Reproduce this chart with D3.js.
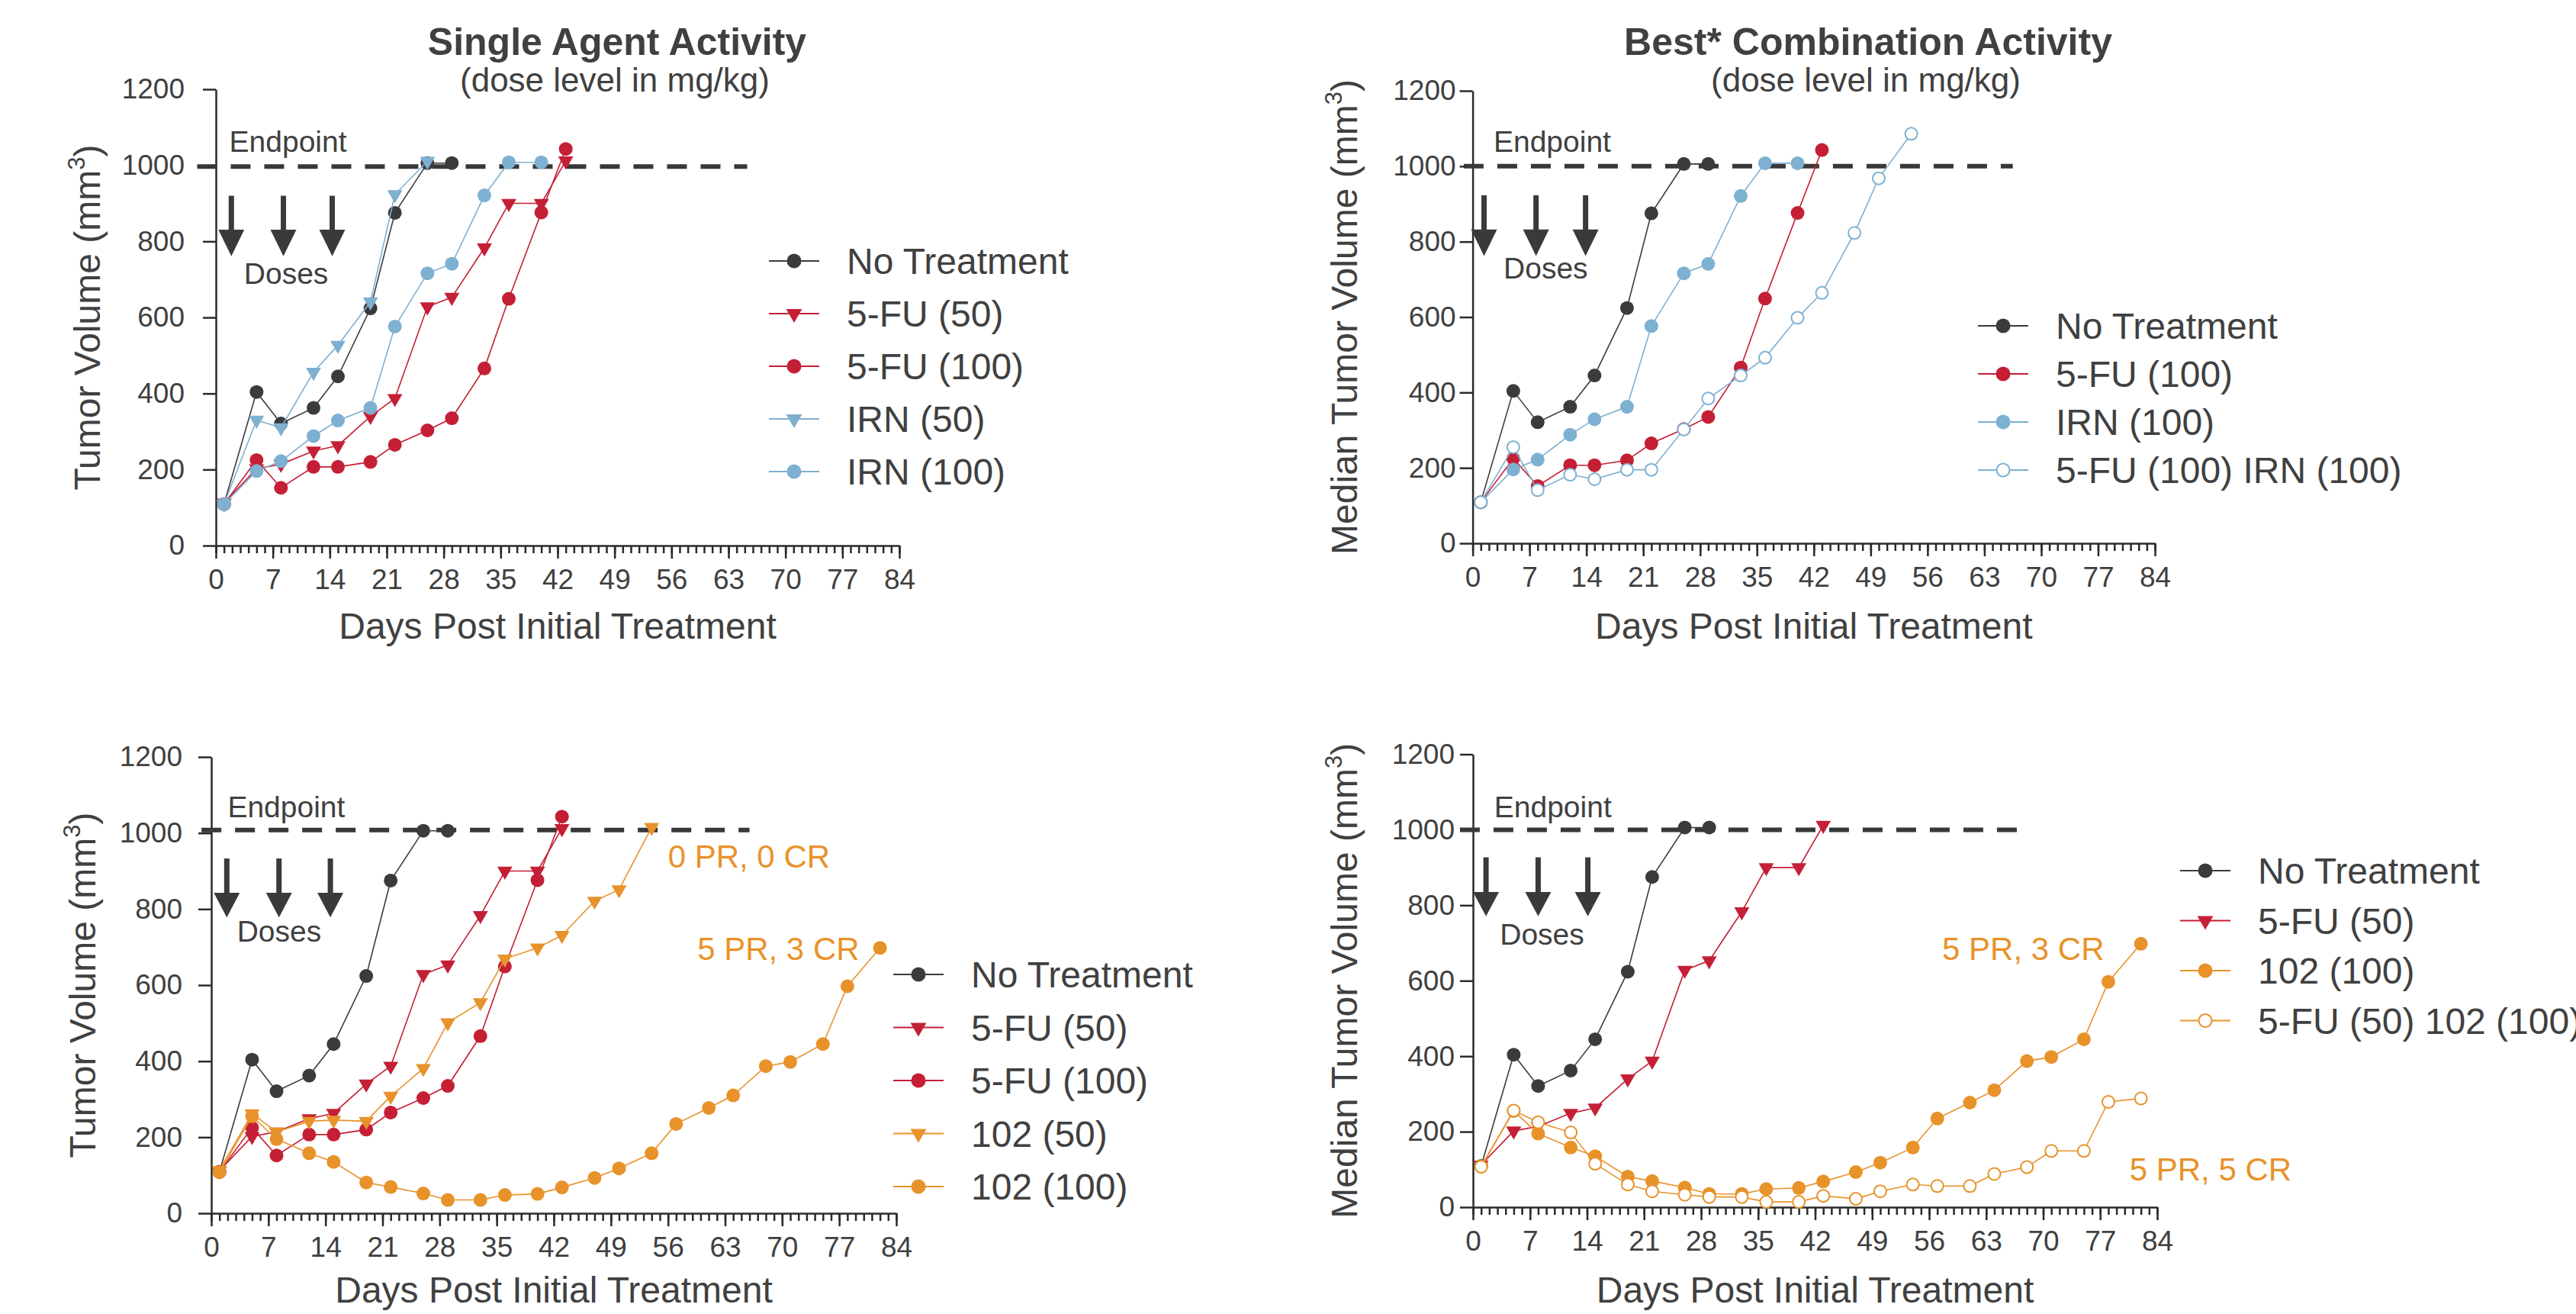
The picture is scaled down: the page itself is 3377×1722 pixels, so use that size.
<!DOCTYPE html>
<html>
<head>
<meta charset="utf-8">
<script src="https://cdn.jsdelivr.net/npm/d3@7"></script>
<style>
  body { margin: 0; background: #fff; }
  svg { display: block; }
  text { font-family: "Liberation Sans", Arial, Helvetica, sans-serif; }
</style>
</head>
<body>
<svg id="chart"></svg>
<script>
// measurement days (Mon/Thu schedule)
const days = [1, 5, 8, 12, 15, 19, 22, 26, 29, 33, 36, 40, 43, 47, 50, 54, 57, 61, 64, 68, 71, 75, 78, 82];
const dayTicks = [0, 7, 14, 21, 28, 35, 42, 49, 56, 63, 70, 77, 84];
const volTicks = [0, 200, 400, 600, 800, 1000, 1200];

// median tumor volume (mm3), one value per day until the group ends
const noTreatment = [109, 404, 321, 362, 445, 624, 875, 1006, 1006];
const fu50 = [112, 202, 214, 249, 263, 340, 387, 628, 653, 783, 900, 900, 1012];
const fu100 = [109, 225, 152, 207, 207, 220, 265, 303, 335, 466, 649, 876, 1043];
const irn50 = [109, 330, 310, 456, 527, 641, 923, 1011];
const irn100 = [109, 196, 222, 288, 329, 362, 576, 716, 741, 921, 1008, 1008];
const fu100Irn100 = [109, 255, 141, 182, 170, 195, 195, 302, 384, 445, 492, 598, 664, 823, 968, 1086];
const c102dose50 = [113, 262, 214, 242, 245, 242, 308, 381, 501, 554, 669, 698, 731, 821, 851, 1015];
const c102dose100 = [108, 255, 195, 158, 135, 81, 69, 52, 35, 35, 48, 51, 68, 93, 118, 158, 235, 277, 310, 387, 398, 445, 597, 698];
const fu50C102 = [107, 256, 225, 198, 115, 60, 42, 33, 27, 27, 14, 14, 30, 22, 42, 60, 56, 56, 88, 106, 149, 149, 279, 288];

const endpoint = 1000;
const doseDays = [1.9, 8.3, 14.3];

const ink = '#404040';
const black = '#3b3b3b';
const red = '#c41f35';
const blue = '#7eb0d1';
const orange = '#e8922a';

class GrowthPanel {

    constructor( config, series ) {
        this.config = config;
        this.series = series;
        this.init();
        this.render();
    }

    init() {
        let self = this;
        const c = self.config;

        self.g = d3.select('#chart').append('g');

        self.xscale = d3.scaleLinear()
            .domain([0, 84])
            .range([c.x0, c.x1]);

        self.yscale = d3.scaleLinear()
            .domain([0, 1200])
            .range([c.yBottom, c.yTop]);

        // minor day ticks
        self.g.append('g')
            .attr('transform', `translate(0, ${c.yBottom})`)
            .call( d3.axisBottom(self.xscale).tickValues(d3.range(0, 85)).tickSize(10).tickSizeOuter(0).tickFormat('') )
            .call( g => g.select('.domain').remove() );

        self.xaxis_group = self.g.append('g')
            .attr('transform', `translate(0, ${c.yBottom})`)
            .call( d3.axisBottom(self.xscale).tickValues(dayTicks).tickSize(17).tickSizeOuter(0).tickPadding(14).tickFormat(d3.format('d')) );

        self.yaxis_group = self.g.append('g')
            .attr('transform', `translate(${c.x0}, 0)`)
            .call( d3.axisLeft(self.yscale).tickValues(volTicks).tickSize(17).tickSizeOuter(0).tickPadding(c.tickPad).tickFormat(d3.format('d')) );

        self.g.selectAll('.tick line, .domain')
            .attr('stroke', '#2a2a2a')
            .attr('stroke-width', 2.5);
        self.g.selectAll('.tick text')
            .attr('fill', ink)
            .style('font-size', '37px')
            .style('font-family', '"Liberation Sans", Arial, sans-serif');

        // axis titles
        self.g.append('text')
            .attr('x', (c.x0 + c.x1) / 2)
            .attr('y', c.yBottom + c.xTitleGap)
            .attr('text-anchor', 'middle')
            .attr('fill', ink)
            .style('font-size', '48px')
            .text('Days Post Initial Treatment');

        const ylab = self.g.append('text')
            .attr('transform', `translate(${c.x0 - 152}, ${(c.yTop + c.yBottom) / 2}) rotate(-90)`)
            .attr('text-anchor', 'middle')
            .attr('fill', ink)
            .style('font-size', '48px');
        ylab.append('tspan').text(c.yLabel + ' (mm');
        ylab.append('tspan').attr('dy', -20).style('font-size', '31px').text('3');
        ylab.append('tspan').attr('dy', 20).text(')');

        if (c.title) {
            self.g.append('text')
                .attr('x', c.titleX).attr('y', 72)
                .attr('text-anchor', 'middle')
                .attr('fill', ink)
                .style('font-size', '50px')
                .style('font-weight', 'bold')
                .text(c.title);
            self.g.append('text')
                .attr('x', c.titleX - 3).attr('y', 120)
                .attr('text-anchor', 'middle')
                .attr('fill', ink)
                .style('font-size', '44px')
                .text('(dose level in mg/kg)');
        }
    }

    marker( sel, s, r ) {
        if (s.shape === 'triangle') {
            sel.append('path')
                .attr('d', d3.symbol(d3.symbolTriangle, r * r * 2.1)())
                .attr('transform', d => `translate(${d[0]}, ${d[1]}) rotate(180)`)
                .attr('fill', s.color);
        } else {
            sel.append('circle')
                .attr('cx', d => d[0]).attr('cy', d => d[1])
                .attr('r', s.shape === 'open' ? r - 1 : r)
                .attr('fill', s.shape === 'open' ? '#fff' : s.color)
                .attr('stroke', s.shape === 'open' ? s.color : 'none')
                .attr('stroke-width', 2);
        }
    }

    render() {
        let self = this;
        const c = self.config;
        const x = self.xscale, y = self.yscale;

        // endpoint line
        self.g.append('line')
            .attr('x1', x(c.dash[0])).attr('x2', x(c.dash[1]))
            .attr('y1', y(c.endpointLevel)).attr('y2', y(c.endpointLevel))
            .attr('stroke', '#383838')
            .attr('stroke-width', 6)
            .attr('stroke-dasharray', '26 18');

        self.g.append('text')
            .attr('x', x(c.endText[0])).attr('y', y(c.endText[1]))
            .attr('fill', ink).style('font-size', '39px')
            .text('Endpoint');

        // dose arrows
        const [top, base, tip] = c.arrow;
        c.doses.forEach(d => {
            const ax = x(d);
            self.g.append('line')
                .attr('x1', ax).attr('x2', ax)
                .attr('y1', y(top)).attr('y2', y(base) + 2)
                .attr('stroke', '#3a3a3a').attr('stroke-width', 7);
            self.g.append('path')
                .attr('d', `M${ax - 17},${y(base)} L${ax + 17},${y(base)} L${ax},${y(tip)} Z`)
                .attr('fill', '#3a3a3a');
        });

        self.g.append('text')
            .attr('x', x(c.doseText[0])).attr('y', y(c.doseText[1]))
            .attr('fill', ink).style('font-size', '39px')
            .text('Doses');

        // data series
        const line = d3.line()
            .x( d => d[0] )
            .y( d => d[1] );

        self.series.forEach(s => {
            const pts = s.values.map((v, i) => [x(days[i]), y(v)]);
            self.g.append('path')
                .attr('d', line(pts))
                .attr('fill', 'none')
                .attr('stroke', s.color)
                .attr('stroke-width', 1.6);
            const m = self.g.append('g').selectAll('g').data(pts).join('g');
            self.marker(m, s, 9);
        });

        // legend
        const lg = c.legend;
        self.series.forEach((s, i) => {
            const ly = lg.y + i * lg.dy;
            self.g.append('line')
                .attr('x1', lg.x - 33).attr('x2', lg.x + 33)
                .attr('y1', ly).attr('y2', ly)
                .attr('stroke', s.color).attr('stroke-width', 2);
            const m = self.g.append('g').selectAll('g').data([[lg.x, ly]]).join('g');
            self.marker(m, s, 9.5);
            self.g.append('text')
                .attr('x', lg.x + 69).attr('y', ly)
                .attr('dy', '0.36em')
                .attr('fill', ink)
                .style('font-size', '48px')
                .text(s.name);
        });

        // response notes
        (c.notes || []).forEach(n => {
            self.g.append('text')
                .attr('x', x(n.day)).attr('y', y(n.vol))
                .attr('fill', orange)
                .style('font-size', '42px')
                .text(n.text);
        });
    }
}

const svg = d3.select('#chart')
    .attr('width', 3377)
    .attr('height', 1722);
svg.append('rect').attr('width', 3377).attr('height', 1722).attr('fill', '#fff');

new GrowthPanel({
    x0: 283, x1: 1179, yBottom: 715, yTop: 117, tickPad: 24, xTitleGap: 122,
    title: 'Single Agent Activity', titleX: 809, yLabel: 'Tumor Volume',
    endpointLevel: 997, dash: [-2.3, 65.3], endText: [1.65, 1036], doseText: [3.45, 689],
    doses: doseDays, arrow: [920, 831, 761],
    legend: { x: 1041, y: 342, dy: 69 }
}, [
    { name: 'No Treatment', values: noTreatment, color: black, shape: 'circle' },
    { name: '5-FU (50)', values: fu50, color: red, shape: 'triangle' },
    { name: '5-FU (100)', values: fu100, color: red, shape: 'circle' },
    { name: 'IRN (50)', values: irn50, color: blue, shape: 'triangle' },
    { name: 'IRN (100)', values: irn100, color: blue, shape: 'circle' }
]);

new GrowthPanel({
    x0: 1930.6, x1: 2825, yBottom: 712, yTop: 119, tickPad: 5, xTitleGap: 125,
    title: 'Best* Combination Activity', titleX: 2449, yLabel: 'Median Tumor Volume',
    endpointLevel: endpoint, dash: [-1.1, 66.5], endText: [2.57, 1038], doseText: [3.8, 702],
    doses: [1.4, 7.8, 13.9], arrow: [923, 832, 762],
    legend: { x: 2626, y: 427, dy: 63 }
}, [
    { name: 'No Treatment', values: noTreatment, color: black, shape: 'circle' },
    { name: '5-FU (100)', values: fu100, color: red, shape: 'circle' },
    { name: 'IRN (100)', values: irn100, color: blue, shape: 'circle' },
    { name: '5-FU (100) IRN (100)', values: fu100Irn100, color: blue, shape: 'open' }
]);

new GrowthPanel({
    x0: 277, x1: 1175, yBottom: 1590, yTop: 992, tickPad: 21, xTitleGap: 117,
    yLabel: 'Tumor Volume',
    endpointLevel: 1008, dash: [-1.2, 66], endText: [2.0, 1042], doseText: [3.15, 715],
    doses: [1.9, 8.3, 14.6], arrow: [933, 843, 778],
    legend: { x: 1204, y: 1277, dy: 69.5 },
    notes: [
        { text: '0 PR, 0 CR', day: 56, vol: 909 },
        { text: '5 PR, 3 CR', day: 59.6, vol: 667 }
    ]
}, [
    { name: 'No Treatment', values: noTreatment, color: black, shape: 'circle' },
    { name: '5-FU (50)', values: fu50, color: red, shape: 'triangle' },
    { name: '5-FU (100)', values: fu100, color: red, shape: 'circle' },
    { name: '102 (50)', values: c102dose50, color: orange, shape: 'triangle' },
    { name: '102 (100)', values: c102dose100, color: orange, shape: 'circle' }
]);

new GrowthPanel({
    x0: 1931, x1: 2828, yBottom: 1582, yTop: 988.5, tickPad: 7, xTitleGap: 125,
    yLabel: 'Median Tumor Volume',
    endpointLevel: endpoint, dash: [-1.6, 67], endText: [2.6, 1033], doseText: [3.3, 696],
    doses: [1.6, 8.0, 14.1], arrow: [927, 835, 771],
    legend: { x: 2891, y: 1141, dy: 65.5 },
    notes: [
        { text: '5 PR, 3 CR', day: 57.6, vol: 655 },
        { text: '5 PR, 5 CR', day: 80.6, vol: 71 }
    ]
}, [
    { name: 'No Treatment', values: noTreatment, color: black, shape: 'circle' },
    { name: '5-FU (50)', values: fu50, color: red, shape: 'triangle' },
    { name: '102 (100)', values: c102dose100, color: orange, shape: 'circle' },
    { name: '5-FU (50) 102 (100)', values: fu50C102, color: orange, shape: 'open' }
]);
</script>
</body>
</html>
